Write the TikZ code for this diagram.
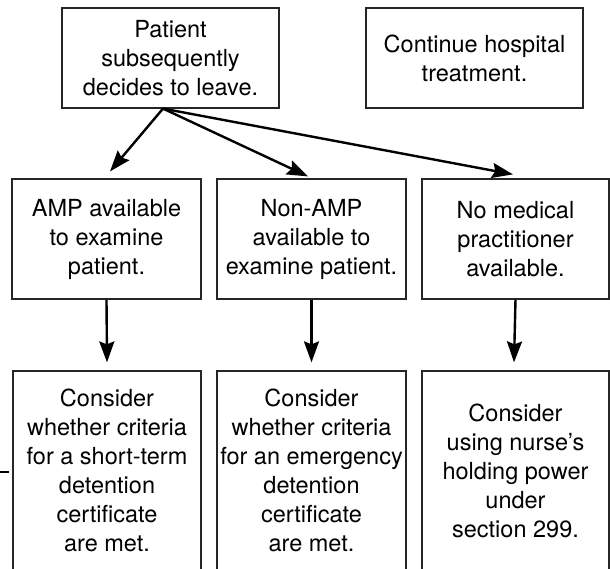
\documentclass[tikz,border=0pt]{standalone}
\usepackage{fontspec}
\setmainfont{TeX Gyre Heros}
\usetikzlibrary{arrows.meta}
\begin{document}
\begin{tikzpicture}[x=1pt,y=-1pt,
  box/.style={draw=black!85, line width=1.2pt, align=center, inner xsep=1pt, inner ysep=0pt,
    font=\fontsize{23.5}{29}\selectfont},
  arr/.style={line width=2.4pt, -{Stealth[length=21pt,width=15pt,inset=3pt]}}]
\clip (0,0) rectangle (610,569);
\fill[white] (0,0) rectangle (610,569);
\node[box, minimum width=217pt, minimum height=100pt] (p) at (170.5,58) {Patient\\subsequently\\decides to leave.};
\node[box, minimum width=217pt, minimum height=100pt] (c) at (474.5,58) {Continue hospital\\treatment.};
\node[box, minimum width=189pt, minimum height=120pt] (a) at (106.5,239) {AMP available\\to examine\\patient.};
\node[box, minimum width=189pt, minimum height=120pt] (b) at (311.5,239) {Non-AMP\\available to\\examine patient.};
\node[box, minimum width=187pt, minimum height=120pt] (n) at (515.5,239) {No medical\\practitioner\\available.};
\node[box, minimum width=188pt, minimum height=199pt] (ba) at (107,470.5) {Consider\\whether criteria\\for a short-term\\detention\\certificate\\are met.};
\node[box, minimum width=189pt, minimum height=199pt] (bb) at (311.5,470.5) {Consider\\whether criteria\\for an emergency\\detention\\certificate\\are met.};
\node[box, minimum width=187pt, minimum height=199pt] (bn) at (515.5,470.5) {Consider\\using nurse’s\\holding power\\under\\section 299.};
\draw[arr] ([xshift=-7.5pt]p.south) -- ([xshift=3.5pt,yshift=7pt]a.north);
\draw[arr] ([xshift=-7.5pt]p.south) -- ([xshift=-3.5pt,yshift=2pt]b.north);
\draw[arr] ([xshift=-7.5pt]p.south) -- ([xshift=-2.5pt,yshift=4pt]n.north);
\draw[arr] (a.south) -- ([yshift=8pt]ba.north);
\draw[arr] (b.south) -- ([yshift=8pt]bb.north);
\draw[arr] (n.south) -- ([xshift=-1.5pt,yshift=8pt]bn.north);
\coordinate (e0) at (0,472);
\coordinate (e1) at (9,472);
\draw[line width=1.5pt] (e0) -- (e1);
\end{tikzpicture}
\end{document}
